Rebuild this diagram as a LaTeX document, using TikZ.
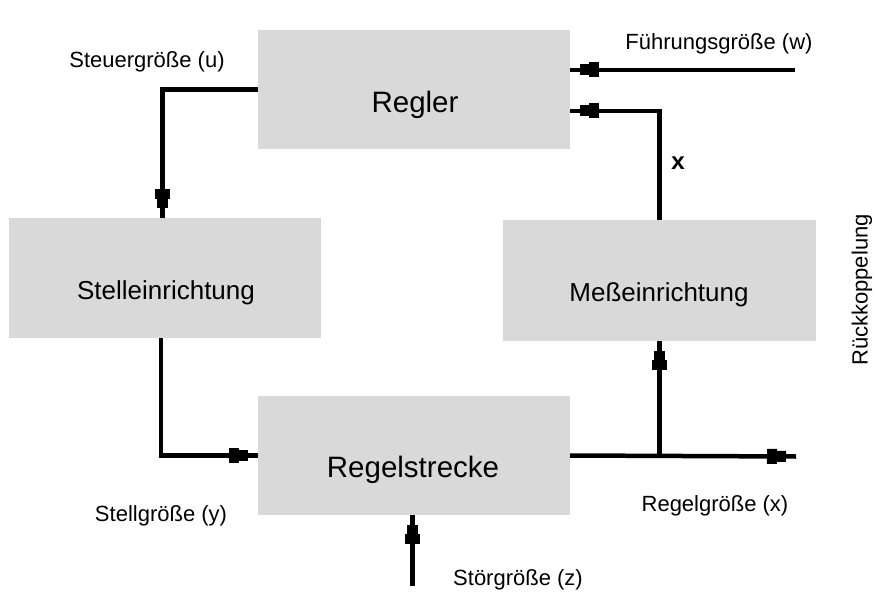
\documentclass[tikz,border=0pt]{standalone}
\usepackage{fontspec}
\setmainfont{Liberation Sans}
\newfontfamily\xmono{Liberation Mono}
\usetikzlibrary{decorations.markings}
\definecolor{boxgray}{RGB}{217,217,217}
\begin{document}
\begin{tikzpicture}[x=1pt,y=-1pt,
  box/.style={fill=boxgray, draw=none, inner sep=0pt, outer sep=0pt},
  conn/.style={line width=4.5pt, postaction={decorate},
    decoration={markings, mark=at position -10pt with {
      \fill (-19pt,-7.5pt) rectangle (-9pt,7.5pt);
      \fill (-9pt,-5.5pt) rectangle (0pt,5.5pt);}}},
  plain/.style={line width=4.5pt},
  lbl/.style={font=\fontsize{22}{26}\selectfont, inner sep=0pt},
  bigl/.style={font=\fontsize{29.5}{34}\selectfont, inner sep=0pt},
  midl/.style={font=\fontsize{26}{30}\selectfont, inner sep=0pt}]
\useasboundingbox (0,0) rectangle (883,604);
% boxes
\node[box, minimum width=312pt, minimum height=119pt] (regler) at (414,89.5) {};
\node[box, minimum width=312pt, minimum height=120pt] (stell) at (165,278) {};
\node[box, minimum width=313pt, minimum height=121pt] (mess) at (659.5,280.5) {};
\node[box, minimum width=312pt, minimum height=119pt] (strecke) at (414,455.5) {};
% box texts
\node[bigl, anchor=base] (treg) at (415,113) {Regler};
\node[midl, anchor=base] (tstell) at (166,299) {Stelleinrichtung};
\node[midl, anchor=base] (tmess) at (659,301) {Meßeinrichtung};
\node[bigl, anchor=base] (tstr) at (413,477.5) {Regelstrecke};
% free ends
\coordinate (w) at (795,70);
\coordinate (xout) at (796,456.5);
\coordinate (z) at (412.5,586);
% connectors
\draw[conn] (regler.west) -| ([xshift=-2.5pt]stell.north);
\draw[conn] ([xshift=-4pt]stell.south) |- (strecke.west);
\draw[conn] (strecke.east) -- (xout);
\draw[conn] (strecke.east -| mess.south) -- (mess.south);
\draw[conn] (mess.north) |- ([yshift=-21.5pt]regler.east);
\draw[conn] (w) -- (w -| regler.east);
\draw[conn] (z) -- (z |- strecke.south);
% labels
\node[lbl, anchor=base] (lu) at (147,68) {Steuergröße (u)};
\node[lbl, anchor=base] (lw) at (719,50) {Führungsgröße (w)};
\node[lbl, anchor=base] (ly) at (161,521) {Stellgröße (y)};
\node[lbl, anchor=base] (lx) at (715,511) {Regelgröße (x)};
\node[lbl, anchor=base] (lz) at (518,585) {Störgröße (z)};
\node[font=\xmono\bfseries\fontsize{24}{28}\selectfont, inner sep=0pt, anchor=base] (lxx) at (678,170) {x};
\node[lbl, rotate=90] (lr) at (862,290) {Rückkoppelung};
\end{tikzpicture}
\end{document}
